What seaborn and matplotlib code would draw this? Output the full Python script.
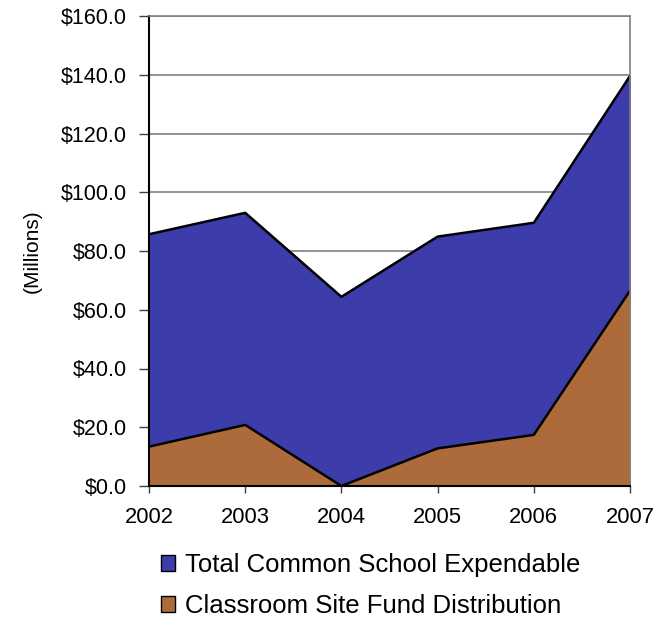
import numpy as np
import matplotlib
matplotlib.use("Agg")
import matplotlib.pyplot as plt
import matplotlib.patches as mpatches
import seaborn as sns

years = [2002, 2003, 2004, 2005, 2006, 2007]
total_expendable = [85.7, 93.0, 64.4, 84.9, 89.6, 139.6]
classroom_site = [13.4, 20.8, 0.0, 12.8, 17.4, 66.5]
series_names = ["Total Common School Expendable", "Classroom Site Fund Distribution"]
yticks = [0, 20, 40, 60, 80, 100, 120, 140, 160]

blue = '#3C3CAA'
brown = '#AD6B3C'

sns.set_style("white")
plt.rcParams['font.family'] = ['Liberation Sans', 'DejaVu Sans']
plt.rcParams.update({'text.color': 'black', 'axes.labelcolor': 'black',
                     'xtick.color': 'black', 'ytick.color': 'black'})

fig = plt.figure(figsize=(6.69, 6.19), dpi=100)
ax = fig.add_axes([149/669, 1-486/619, (630-149)/669, (486-16)/619])

# gridlines behind
for t in yticks[1:]:
    ax.axhline(t, color='#808080', lw=1.2, zorder=0)

ax.fill_between(years, total_expendable, 0, color=blue, zorder=1)
ax.fill_between(years, classroom_site, 0, color=brown, zorder=2)
sns.lineplot(x=years, y=total_expendable, color='black', lw=1.8, ax=ax, zorder=3)
sns.lineplot(x=years, y=classroom_site, color='black', lw=1.8, ax=ax, zorder=3)

ax.set_xlim(years[0], years[-1])
ax.set_ylim(0, 160)
ax.set_xticks(years)
ax.set_xticklabels([str(y) for y in years], fontsize=15.8)
ax.set_yticks(yticks)
ax.set_yticklabels(['$%.1f' % v for v in yticks], fontsize=15.5)
ax.set_ylabel("(Millions)", fontsize=15)
ax.yaxis.set_label_coords(-0.222, 0.5)

for s in ['top', 'right']:
    ax.spines[s].set_color('#808080')
    ax.spines[s].set_linewidth(1.2)
ax.spines['left'].set_color('black')
ax.spines['bottom'].set_color('black')
ax.spines['left'].set_linewidth(1.5)
ax.spines['bottom'].set_linewidth(1.5)
ax.tick_params(axis='y', direction='out', length=7, width=1, color='#404040',
               labelcolor='black', left=True, pad=9)
ax.tick_params(axis='x', direction='out', length=5, width=1, color='#404040',
               labelcolor='black', bottom=True, pad=10)
for s in ax.spines.values():
    s.set_zorder(4)

handles = [mpatches.Patch(facecolor=blue, edgecolor='black', lw=1),
           mpatches.Patch(facecolor=brown, edgecolor='black', lw=1)]
fig.legend(handles, series_names, loc='upper left', bbox_to_anchor=(161/669, 1-553/619),
           frameon=False, fontsize=18.5, handlelength=0.54, handleheight=0.54,
           handletextpad=0.39, labelspacing=0.67, borderaxespad=0, borderpad=0)

fig.savefig("out.png", dpi=100)
